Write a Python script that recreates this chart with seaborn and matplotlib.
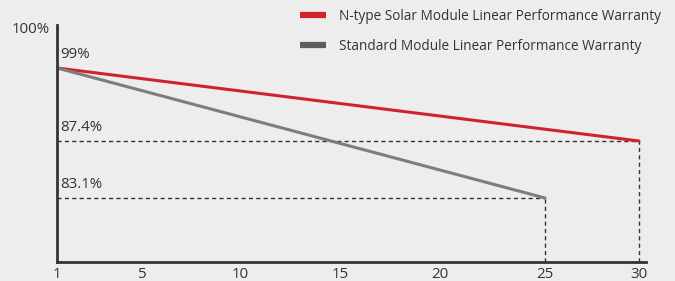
import numpy as np
import pandas as pd
import matplotlib
matplotlib.use("Agg")
import matplotlib.pyplot as plt
import matplotlib.transforms as mtransforms
import seaborn as sns
from matplotlib.lines import Line2D

# warranty data (years, % power)
ntype_years = [1, 30]
ntype_power = [99.0, 87.4]
std_years = [1, 25]
std_power = [99.0, 83.1]
series_names = ["N-type Solar Module Linear Performance Warranty",
                "Standard Module Linear Performance Warranty"]
xticks = [1, 5, 10, 15, 20, 25, 30]

sns.set_theme(style="white")
plt.rcParams['font.family'] = ['Open Sans', 'DejaVu Sans']

bg = "#ededed"
red = "#d2232a"
grey_line = "#7d7d7f"
grey_legend = "#5c5d60"
dark = "#333333"

df = pd.DataFrame({
    "year": ntype_years + std_years,
    "power": ntype_power + std_power,
    "series": [series_names[0]] * 2 + [series_names[1]] * 2,
})

fig = plt.figure(figsize=(6.75, 2.81), dpi=100, facecolor=bg)
ax = fig.add_axes([57 / 675, 19 / 281, 589 / 675, 237 / 281])
ax.set_facecolor(bg)

# the original artwork is schematic: axes are not evenly spaced
yk_v = np.array([78.0, 83.1, 87.4, 99.0, 100.0])
yk_p = np.array([0.0, 64.0, 121.0, 194.0, 237.0])
ax.set_yscale("function", functions=(
    lambda v: np.interp(v, yk_v, yk_p, left=-1e3, right=1e3),
    lambda p: np.interp(p, yk_p, yk_v)))
xk_v = np.array([1.0, 5, 10, 15, 20, 25, 30, 30.4])
xk_p = np.array([0.0, 85, 183, 283, 383, 488, 582, 589])
ax.set_xscale("function", functions=(
    lambda v: np.interp(v, xk_v, xk_p, left=-1e3, right=1e3),
    lambda p: np.interp(p, xk_p, xk_v)))

sns.lineplot(data=df, x="year", y="power", hue="series",
             palette=[red, grey_line], linewidth=2.2, ax=ax, legend=False)

# dashed guides
for yr, val in [(ntype_years[-1], ntype_power[-1]), (std_years[-1], std_power[-1])]:
    ax.plot([1, yr], [val, val], ls=(0, (3, 2.3)), color=dark, lw=1.0, zorder=1)
    ax.plot([yr, yr], [78, val], ls=(0, (3, 2.3)), color=dark, lw=1.0, zorder=1)

for val, lab in [(99.0, "99%"), (87.4, "87.4%"), (83.1, "83.1%")]:
    ax.annotate(lab, (1, val), xytext=(2.5, 4), textcoords="offset points",
                fontsize=10.8, color="#333333", va="bottom", ha="left")

ax.set_xlim(1, 30.4)
ax.set_ylim(78, 100)
ax.set_xticks(xticks)
ax.set_xticklabels([str(t) for t in xticks])
ax.xaxis.set_minor_locator(matplotlib.ticker.NullLocator())
ax.yaxis.set_minor_locator(matplotlib.ticker.NullLocator())
ax.set_yticks([100])
ax.set_yticklabels(["100%"])
ax.tick_params(axis="both", length=0, labelsize=10.8, colors="#333333")
ax.tick_params(axis="x", pad=3.5)
ax.tick_params(axis="y", pad=5)
shift = mtransforms.ScaledTranslation(0, -2.5 / 100, fig.dpi_scale_trans)
for lbl in ax.get_yticklabels():
    lbl.set_transform(lbl.get_transform() + shift)
ax.set_xlabel("")
ax.set_ylabel("")
for s in ["top", "right"]:
    ax.spines[s].set_visible(False)
for s in ["left", "bottom"]:
    ax.spines[s].set_color(dark)
    ax.spines[s].set_linewidth(2)

handles = [Line2D([], [], color=red, lw=4.5, solid_capstyle="butt"),
           Line2D([], [], color=grey_legend, lw=4.5, solid_capstyle="butt")]
fig.legend(handles, series_names, loc="upper left", bbox_to_anchor=(288 / 675, 1.012),
           frameon=False, fontsize=9.8, handlelength=1.9, handletextpad=0.95,
           labelspacing=1.12, labelcolor="#333333")

fig.savefig("out.png", dpi=100, facecolor=bg)
